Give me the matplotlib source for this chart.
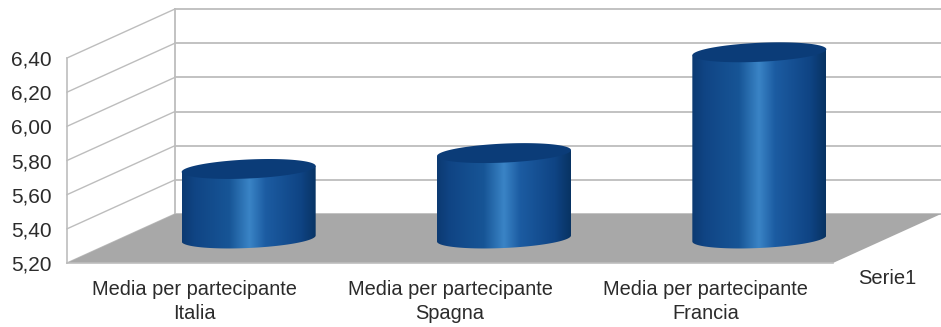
import numpy as np
import matplotlib
matplotlib.use('Agg')
import matplotlib.pyplot as plt
from matplotlib.colors import LinearSegmentedColormap
from matplotlib.patches import Polygon

plt.rcParams['font.family'] = ['Liberation Sans', 'DejaVu Sans']

# Data
categories = ['Media per partecipante\nItalia', 'Media per partecipante\nSpagna', 'Media per partecipante\nFrancia']
values = [5.607, 5.70, 6.29]
y_ticks = [5.2, 5.4, 5.6, 5.8, 6.0, 6.2, 6.4]
y_labels = ['5,20', '5,40', '5,60', '5,80', '6,00', '6,20', '6,40']
series_name = 'Serie1'

W, H = 941, 327
grid_col = '#bdbdbd'
text_col = '#2b2b2b'

fig = plt.figure(figsize=(W / 100, H / 100), dpi=100)
# front plane of the 3D box in pixels: x 67-833, y 58-263
ax = fig.add_axes([67 / W, 1 - 263 / H, 766 / W, 205 / H])
ax.patch.set_alpha(0)
ax.set_xlim(0, 3)
ax.set_ylim(5.2, 6.4)

# depth shift of the box, in data units
dx = 108 / 766 * 3
dy = 49 / 205 * 1.2

# walls
for v in y_ticks:
    ax.plot([0, dx], [v, v + dy], color=grid_col, lw=1.0, clip_on=False, zorder=1)
    ax.plot([dx, 3 + dx], [v + dy, v + dy], color=grid_col, lw=1.3, clip_on=False, zorder=1)
ax.plot([dx, dx], [5.2 + dy, 6.4 + dy], color=grid_col, lw=1.3, clip_on=False, zorder=1)

# floor
floor = Polygon([[0, 5.2], [dx, 5.2 + dy], [3 + dx, 5.2 + dy], [3, 5.2]],
                facecolor='#a8a8a8', edgecolor='none', clip_on=False, zorder=2)
ax.add_patch(floor)

# cylinders
cmap = LinearSegmentedColormap.from_list('cyl', [
    (0.0, '#0c3a72'), (0.1, '#104585'), (0.35, '#175596'), (0.5, '#3a84c6'),
    (0.62, '#1c5ca2'), (0.88, '#0f4484'), (1.0, '#083363')])
a = 67 / 766 * 3
b = 9.5 / 205 * 1.2
tilt = 3 / 205 * 1.2
t_top = np.linspace(0, 2 * np.pi, 120)
t_low = np.linspace(np.pi, 2 * np.pi, 60)
grad = np.linspace(0, 1, 256).reshape(1, -1)

for i, val in enumerate(values):
    cx = i + 0.5 + dx / 2
    base = 5.2 + dy / 2
    top = val + dy / 2
    xs_low = cx + a * np.cos(t_low)
    ys_low = base + tilt * np.cos(t_low) + b * np.sin(t_low)
    body = np.vstack([[cx + a, top + tilt], [cx - a, top - tilt], np.column_stack([xs_low, ys_low])])
    body_patch = Polygon(body, closed=True, facecolor='none', edgecolor='none', zorder=3, clip_on=False)
    ax.add_patch(body_patch)
    im = ax.imshow(grad, cmap=cmap, aspect='auto', vmin=0, vmax=1, zorder=3,
                   extent=[cx - a, cx + a, 5.2, 6.4 + dy])
    im.set_clip_box(fig.bbox)
    im.set_clip_path(body_patch)
    cap = np.column_stack([cx + a * np.cos(t_top), top + tilt * np.cos(t_top) + b * np.sin(t_top)])
    ax.add_patch(Polygon(cap, closed=True, facecolor='#0b3c78', edgecolor='none', zorder=4, clip_on=False))

ax.set_xlim(0, 3)
ax.set_ylim(5.2, 6.4)

# axes
for s in ['top', 'right']:
    ax.spines[s].set_visible(False)
for s in ['left', 'bottom']:
    ax.spines[s].set_color(grid_col)
    ax.spines[s].set_linewidth(1.2)
    ax.spines[s].set_zorder(5)
ax.set_yticks(y_ticks)
ax.set_yticklabels(y_labels, fontsize=15, color=text_col)
ax.set_xticks([0.5, 1.5, 2.5])
ax.set_xticklabels(categories, fontsize=14.4, color=text_col, linespacing=1.34)
ax.tick_params(length=0, axis='y', pad=11)
ax.tick_params(length=0, axis='x', pad=12)

ax.text(3 + 54 / 766 * 3, 5.2 - 15 / 205 * 1.2, series_name, fontsize=14.5, color=text_col,
        ha='center', va='center', clip_on=False)

fig.savefig('out.png', dpi=100)
